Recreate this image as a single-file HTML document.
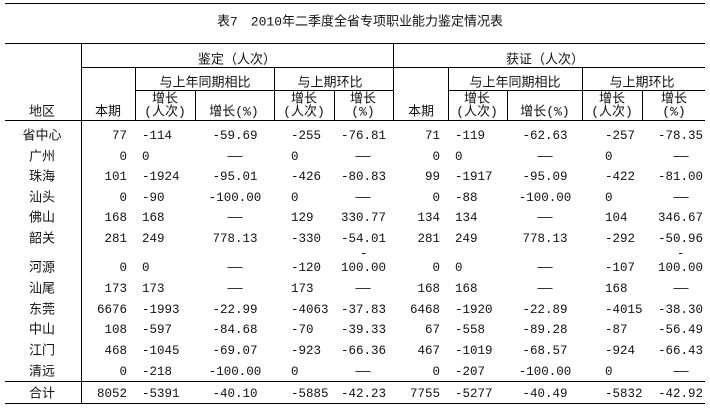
<!DOCTYPE html>
<html><head><meta charset="utf-8"><style>
body{margin:0;background:#fff;}
#w{position:relative;width:710px;height:411px;overflow:hidden;background:#fff;color:#111;font-family:"Liberation Mono","Noto Sans CJK SC",monospace;font-size:12.5px;}
.h,.v{position:absolute;background:#000;}
.h{height:1px}.v{width:1px}
.t{position:absolute;white-space:nowrap;line-height:1;}
.row{position:absolute;left:0;width:710px;height:0;}
.row span{position:absolute;white-space:nowrap;line-height:1;transform:translateY(-50%);}
.a{left:42px;transform:translate(-50%,-50%)!important;font-size:13px}
.b{right:583px}
.c{left:142px}
.d{left:235px;transform:translate(-50%,-50%)!important}
.e{left:291px}
.f{right:324px}
.g{right:270px}
.i{left:455px}
.j{left:545px;transform:translate(-50%,-50%)!important}
.k{left:605px}
.m{right:7px}
.dd1{left:363px;transform:translate(-50%,-50%)!important}
.dd2{left:681px;transform:translate(-50%,-50%)!important}
.cc{transform:translate(-50%,-50%)}
</style></head><body><div id="w">
<div class="h" style="left:5px;top:3px;width:700px"></div>
<div class="t cc" style="left:360px;top:22px;font-size:13px;transform:translate(-50%,-50%)">表7　2010年二季度全省专项职业能力鉴定情况表</div>
<div class="h" style="left:5px;top:43px;width:700px"></div>
<div class="h" style="left:81px;top:67px;width:624px"></div>
<div class="h" style="left:135px;top:90px;width:258px"></div>
<div class="h" style="left:448px;top:90px;width:257px"></div>
<div class="h" style="left:5px;top:120px;width:700px"></div>
<div class="h" style="left:5px;top:381px;width:700px"></div>
<div class="h" style="left:5px;top:403px;width:700px"></div>
<div class="v" style="left:81px;top:43px;height:360px"></div>
<div class="v" style="left:393px;top:43px;height:77px"></div>
<div class="v" style="left:135px;top:67px;height:53px"></div>
<div class="v" style="left:274px;top:67px;height:53px"></div>
<div class="v" style="left:448px;top:67px;height:53px"></div>
<div class="v" style="left:582px;top:67px;height:53px"></div>
<div class="v" style="left:195px;top:90px;height:30px"></div>
<div class="v" style="left:334px;top:90px;height:30px"></div>
<div class="v" style="left:507px;top:90px;height:30px"></div>
<div class="v" style="left:642px;top:90px;height:30px"></div>

<div class="t" style="left:237px;top:60px;transform:translate(-50%,-50%);font-size:13px">鉴定（人次）</div>
<div class="t" style="left:545px;top:60px;transform:translate(-50%,-50%);font-size:13px">获证（人次）</div>
<div class="t" style="left:205px;top:83px;transform:translate(-50%,-50%);font-size:13px">与上年同期相比</div>
<div class="t" style="left:330px;top:83px;transform:translate(-50%,-50%);font-size:13px">与上期环比</div>
<div class="t" style="left:515px;top:83px;transform:translate(-50%,-50%);font-size:13px">与上年同期相比</div>
<div class="t" style="left:642px;top:83px;transform:translate(-50%,-50%);font-size:13px">与上期环比</div>
<div class="t" style="left:42px;top:112px;transform:translate(-50%,-50%);font-size:13px">地区</div>
<div class="t" style="left:108px;top:112px;transform:translate(-50%,-50%);font-size:13px">本期</div>
<div class="t" style="left:421px;top:112px;transform:translate(-50%,-50%);font-size:13px">本期</div>
<div class="t" style="left:165px;top:99px;transform:translate(-50%,-50%);font-size:13px">增长</div>
<div class="t" style="left:165px;top:112px;transform:translate(-50%,-50%);font-size:13px">(人次)</div>
<div class="t" style="left:234px;top:112px;transform:translate(-50%,-50%);font-size:13px">增长(%)</div>
<div class="t" style="left:304px;top:99px;transform:translate(-50%,-50%);font-size:13px">增长</div>
<div class="t" style="left:304px;top:112px;transform:translate(-50%,-50%);font-size:13px">(人次)</div>
<div class="t" style="left:363px;top:99px;transform:translate(-50%,-50%);font-size:13px">增长</div>
<div class="t" style="left:363px;top:112px;transform:translate(-50%,-50%);font-size:13px">(%)</div>
<div class="t" style="left:477px;top:99px;transform:translate(-50%,-50%);font-size:13px">增长</div>
<div class="t" style="left:477px;top:112px;transform:translate(-50%,-50%);font-size:13px">(人次)</div>
<div class="t" style="left:545px;top:112px;transform:translate(-50%,-50%);font-size:13px">增长(%)</div>
<div class="t" style="left:612px;top:99px;transform:translate(-50%,-50%);font-size:13px">增长</div>
<div class="t" style="left:612px;top:112px;transform:translate(-50%,-50%);font-size:13px">(人次)</div>
<div class="t" style="left:674px;top:99px;transform:translate(-50%,-50%);font-size:13px">增长</div>
<div class="t" style="left:674px;top:112px;transform:translate(-50%,-50%);font-size:13px">(%)</div>

<div class="row" style="top:136px"><span class="a">省中心</span><span class="b">77</span><span class="c">-114</span><span class="d">-59.69</span><span class="e">-255</span><span class="f">-76.81</span><span class="g">71</span><span class="i">-119</span><span class="j">-62.63</span><span class="k">-257</span><span class="m">-78.35</span></div>
<div class="row" style="top:157px"><span class="a">广州</span><span class="b">0</span><span class="c">0</span><span class="d">——</span><span class="e">0</span><span class="dd1">——</span><span class="g">0</span><span class="i">0</span><span class="j">——</span><span class="k">0</span><span class="dd2">——</span></div>
<div class="row" style="top:177px"><span class="a">珠海</span><span class="b">101</span><span class="c">-1924</span><span class="d">-95.01</span><span class="e">-426</span><span class="f">-80.83</span><span class="g">99</span><span class="i">-1917</span><span class="j">-95.09</span><span class="k">-422</span><span class="m">-81.00</span></div>
<div class="row" style="top:198px"><span class="a">汕头</span><span class="b">0</span><span class="c">-90</span><span class="d">-100.00</span><span class="e">0</span><span class="dd1">——</span><span class="g">0</span><span class="i">-88</span><span class="j">-100.00</span><span class="k">0</span><span class="dd2">——</span></div>
<div class="row" style="top:218px"><span class="a">佛山</span><span class="b">168</span><span class="c">168</span><span class="d">——</span><span class="e">129</span><span class="f">330.77</span><span class="g">134</span><span class="i">134</span><span class="j">——</span><span class="k">104</span><span class="m">346.67</span></div>
<div class="row" style="top:239px"><span class="a">韶关</span><span class="b">281</span><span class="c">249</span><span class="d">778.13</span><span class="e">-330</span><span class="f">-54.01</span><span class="g">281</span><span class="i">249</span><span class="j">778.13</span><span class="k">-292</span><span class="m">-50.96</span></div>
<div class="row" style="top:254px"><span style="left:360px">-</span><span style="left:677px">-</span></div>
<div class="row" style="top:268px"><span class="a">河源</span><span class="b">0</span><span class="c">0</span><span class="d">——</span><span class="e">-120</span><span class="f">100.00</span><span class="g">0</span><span class="i">0</span><span class="j">——</span><span class="k">-107</span><span class="m">100.00</span></div>
<div class="row" style="top:289px"><span class="a">汕尾</span><span class="b">173</span><span class="c">173</span><span class="d">——</span><span class="e">173</span><span class="dd1">——</span><span class="g">168</span><span class="i">168</span><span class="j">——</span><span class="k">168</span><span class="dd2">——</span></div>
<div class="row" style="top:310px"><span class="a">东莞</span><span class="b">6676</span><span class="c">-1993</span><span class="d">-22.99</span><span class="e">-4063</span><span class="f">-37.83</span><span class="g">6468</span><span class="i">-1920</span><span class="j">-22.89</span><span class="k">-4015</span><span class="m">-38.30</span></div>
<div class="row" style="top:330px"><span class="a">中山</span><span class="b">108</span><span class="c">-597</span><span class="d">-84.68</span><span class="e">-70</span><span class="f">-39.33</span><span class="g">67</span><span class="i">-558</span><span class="j">-89.28</span><span class="k">-87</span><span class="m">-56.49</span></div>
<div class="row" style="top:351px"><span class="a">江门</span><span class="b">468</span><span class="c">-1045</span><span class="d">-69.07</span><span class="e">-923</span><span class="f">-66.36</span><span class="g">467</span><span class="i">-1019</span><span class="j">-68.57</span><span class="k">-924</span><span class="m">-66.43</span></div>
<div class="row" style="top:372px"><span class="a">清远</span><span class="b">0</span><span class="c">-218</span><span class="d">-100.00</span><span class="e">0</span><span class="dd1">——</span><span class="g">0</span><span class="i">-207</span><span class="j">-100.00</span><span class="k">0</span><span class="dd2">——</span></div>
<div class="row" style="top:394px"><span class="a">合计</span><span class="b">8052</span><span class="c">-5391</span><span class="d">-40.10</span><span class="e">-5885</span><span class="f">-42.23</span><span class="g">7755</span><span class="i">-5277</span><span class="j">-40.49</span><span class="k">-5832</span><span class="m">-42.92</span></div>
</div></body></html>
